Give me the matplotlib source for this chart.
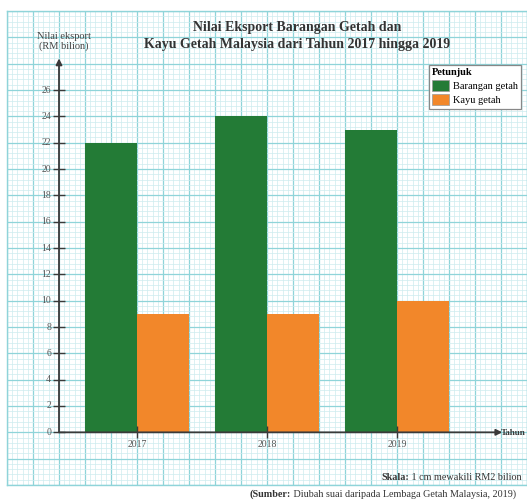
import numpy as np
import matplotlib.pyplot as plt
from matplotlib.patches import Patch

# data
years = ['2017', '2018', '2019']
barangan_getah = [22, 24, 23]
kayu_getah = [9, 9, 10]
y_ticks = list(range(0, 27, 2))

green = '#237b36'
orange = '#f2872a'
ink = '#3a3a3a'
serif = 'Liberation Serif'

W, H = 527, 501
fig = plt.figure(figsize=(W / 100, H / 100), dpi=100)

def fx(px):
    return px / W

def fy(py):
    return 1 - py / H

# graph paper region (pixels): left 7, right 527, top 11, bottom 485
pos = [fx(7), fy(485), fx(527) - fx(7), fy(11) - fy(485)]
xlim = (-2, 18)
ylim = (-4, 32)

# background grid paper
bg = fig.add_axes(pos)
bg.set_xlim(*xlim)
bg.set_ylim(*ylim)
bg.set_xticks(np.arange(-2, 18.01, 1))
bg.set_xticks(np.arange(-2, 18.01, 0.2), minor=True)
bg.set_yticks(np.arange(-4, 32.01, 2))
bg.set_yticks(np.arange(-4, 32.01, 0.4), minor=True)
bg.grid(which='minor', color='#cdecef', lw=0.5)
bg.grid(which='major', color='#8fd4d9', lw=0.9)
bg.tick_params(which='both', length=0, labelbottom=False, labelleft=False)
for s in bg.spines.values():
    s.set_color('#8fd4d9')
    s.set_linewidth(1.0)
bg.set_axisbelow(True)

# chart axes on top, same scale
ax = fig.add_axes(pos)
ax.patch.set_alpha(0)
ax.set_xlim(*xlim)
ax.set_ylim(*ylim)
for s in ax.spines.values():
    s.set_visible(False)

x = np.array([3 + 5 * i for i in range(len(years))])
ax.bar(x - 1, barangan_getah, width=2, color=green, zorder=3)
ax.bar(x + 1, kayu_getah, width=2, color=orange, zorder=3)

# axes with arrows
ax.annotate('', xy=(0, 28.4), xytext=(0, 0),
            arrowprops=dict(arrowstyle='-|>', color=ink, lw=1.3,
                            mutation_scale=9, shrinkA=0, shrinkB=0), zorder=4)
ax.annotate('', xy=(17.05, 0), xytext=(0, 0),
            arrowprops=dict(arrowstyle='-|>', color=ink, lw=1.3,
                            mutation_scale=9, shrinkA=0, shrinkB=0), zorder=4)

# ticks
ax.plot(np.zeros(len(y_ticks)), y_ticks, ls='none', marker='_', ms=8,
        mew=1.0, color=ink, zorder=4)
ax.plot(x, np.zeros(len(x)), ls='none', marker='|', ms=8,
        mew=1.0, color=ink, zorder=4)
for v in y_ticks:
    ax.text(-0.3, v, str(v), ha='right', va='center', fontsize=7,
            family=serif, color='#555555')
for xi, lab in zip(x, years):
    ax.text(xi, -0.6, lab, ha='center', va='top', fontsize=7,
            family=serif, color='#555555')

ax.set_xticks([])
ax.set_yticks([])

# labels
fig.text(fx(501), fy(433), 'Tahun', ha='left', va='center', fontsize=6.6,
         family=serif, fontweight='bold', color=ink)
fig.text(fx(64), fy(41.5), 'Nilai eksport\n(RM bilion)', ha='center',
         va='center', fontsize=7.5, family=serif, color='#444444',
         linespacing=0.95)
fig.text(fx(297), fy(36), 'Nilai Eksport Barangan Getah dan\n'
         'Kayu Getah Malaysia dari Tahun 2017 hingga 2019',
         ha='center', va='center', fontsize=10, family=serif,
         fontweight='bold', color='#333333', linespacing=1.4)

# legend
handles = [Patch(facecolor=green, edgecolor='#999999', lw=0.5),
           Patch(facecolor=orange, edgecolor='#999999', lw=0.5)]
leg = fig.legend(handles, ['Barangan getah', 'Kayu getah'], title='Petunjuk',
                 loc='upper right', bbox_to_anchor=(fx(521), fy(65)),
                 alignment='left', fancybox=False, framealpha=1,
                 edgecolor='#888888', prop={'family': serif, 'size': 7.5},
                 handlelength=1.6, handleheight=1.25, handletextpad=0.4,
                 borderpad=0.3, labelspacing=0.3, borderaxespad=0)
leg.get_title().set_fontproperties({'family': serif, 'size': 7.5,
                                    'weight': 'bold'})
leg.get_frame().set_linewidth(0.9)

# scale and source (bold lead-in followed by regular text)
def lead_text(px, py, bold, rest, size):
    t = fig.text(fx(px), fy(py), bold, ha='left', va='baseline',
                 fontsize=size, family=serif, fontweight='bold',
                 color='#333333')
    fig.canvas.draw()
    bb = t.get_window_extent()
    fig.text(bb.x1 / W, fy(py), rest, ha='left', va='baseline',
             fontsize=size, family=serif, color='#333333')

lead_text(381, 480, 'Skala:', ' 1 cm mewakili RM2 bilion', 7.3)
lead_text(250, 497, '(Sumber:', ' Diubah suai daripada Lembaga Getah Malaysia, 2019)', 7.3)

fig.savefig('out.png', dpi=100)
